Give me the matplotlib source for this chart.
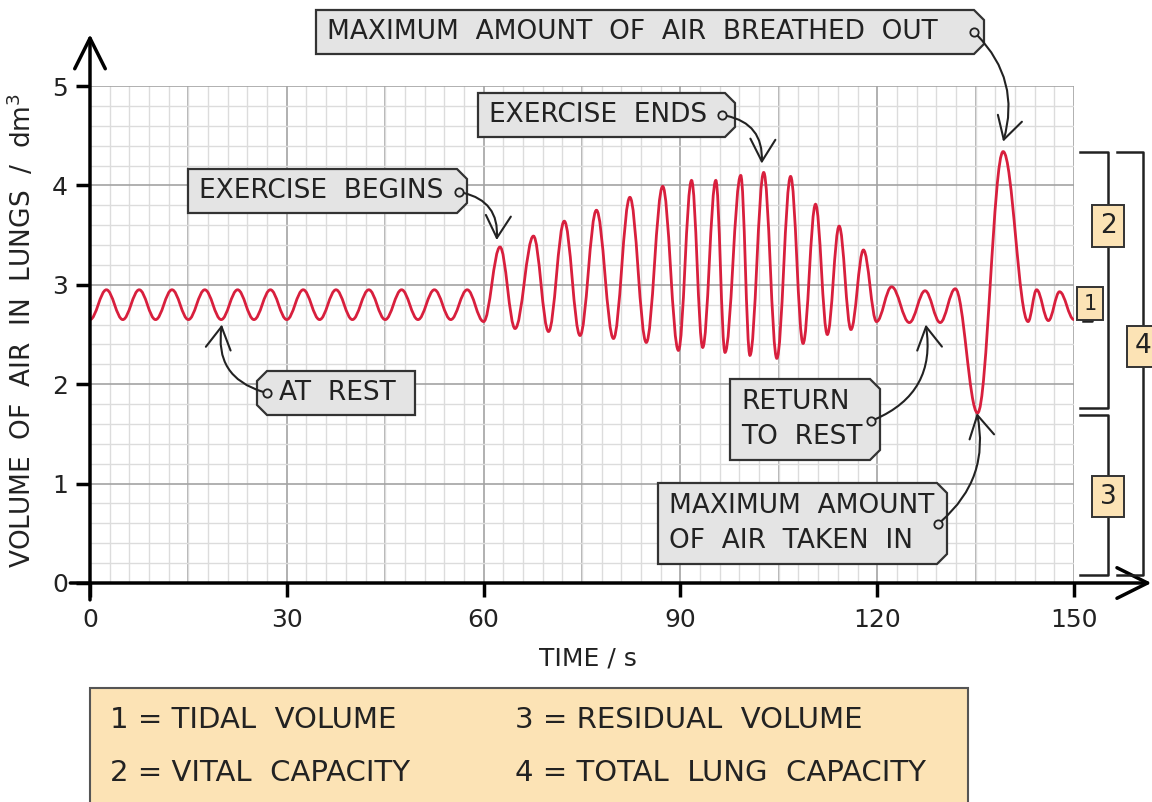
import numpy as np
import matplotlib.pyplot as plt
from matplotlib.path import Path
from matplotlib.patches import PathPatch, Polygon, Rectangle

# turning points of the spirometer trace (time / s, volume / dm3)
times = [0, 2.5, 5, 7.5, 10, 12.5, 15, 17.5, 20, 22.5, 25, 27.5, 30, 32.5, 35,
         37.5, 40, 42.5, 45, 47.5, 50, 52.5, 55, 57.5, 60,
         62.5, 64.8, 67.6, 69.9, 72.3, 74.7, 77.2, 79.8, 82.3, 84.8, 87.3, 89.7,
         91.7, 93.4, 95.4, 96.8, 99.2, 100.6, 102.7, 104.7, 106.8, 108.7,
         110.6, 112.4, 114.2, 116.0, 117.9, 119.9,
         122.2, 124.9, 127.3, 129.6, 131.9, 135.3, 139.2, 143.0, 144.3, 146.1,
         147.8, 150]
volumes = [2.65, 2.95, 2.65, 2.95, 2.65, 2.95, 2.65, 2.95, 2.65, 2.95, 2.65,
           2.95, 2.65, 2.95, 2.65, 2.95, 2.65, 2.95, 2.65, 2.95, 2.65, 2.95,
           2.65, 2.95, 2.63,
           3.38, 2.56, 3.49, 2.53, 3.64, 2.49, 3.75, 2.46, 3.88, 2.42, 3.99, 2.34,
           4.05, 2.37, 4.05, 2.32, 4.10, 2.29, 4.13, 2.26, 4.09, 2.41,
           3.81, 2.50, 3.59, 2.55, 3.35, 2.63,
           2.98, 2.62, 2.94, 2.62, 2.96, 1.71, 4.34, 2.63, 2.95, 2.64,
           2.93, 2.65]

x_labels = [0, 30, 60, 90, 120, 150]
y_labels = [0, 1, 2, 3, 4, 5]

# callouts: text, box (left, top, right, bottom in px), tag side, hole px, target (t, v), curve
callouts = [
    ("MAXIMUM  AMOUNT  OF  AIR  BREATHED  OUT", (316, 10, 984, 54), "right", (974, 32), (139.2, 4.44), -0.3),
    ("EXERCISE  ENDS", (478, 93, 735, 137), "right", (722, 115), (102.4, 4.22), -0.45),
    ("EXERCISE  BEGINS", (188, 169, 467, 213), "right", (459, 192), (62.0, 3.45), -0.45),
    ("AT  REST", (257, 371, 415, 415), "left", (267, 393), (20.1, 2.60), -0.45),
    ("RETURN\nTO  REST", (730, 379, 880, 460), "right", (871, 421), (127.4, 2.60), 0.4),
    ("MAXIMUM  AMOUNT\nOF  AIR  TAKEN  IN", (658, 483, 947, 564), "right", (938, 524), (135.2, 1.71), 0.3),
]

legend_rows = [("1 = TIDAL  VOLUME", "3 = RESIDUAL  VOLUME"),
               ("2 = VITAL  CAPACITY", "4 = TOTAL  LUNG  CAPACITY")]

W, H = 1152, 802
RED = "#d81f3d"
TAN = "#fce3b5"
DARK = "#222222"


def fp(x, y):
    # pixel (from top left) -> figure fraction
    return (x / W, 1 - y / H)


fig = plt.figure(figsize=(W / 100, H / 100), dpi=100)
ax = fig.add_axes([90 / W, 1 - 583 / H, (1074 - 90) / W, (583 - 86) / H])
ax.set_xlim(0, 150)
ax.set_ylim(0, 5)
for s in ax.spines.values():
    s.set_visible(False)

# graph paper
ax.set_xticks(x_labels)
ax.set_xticks(np.arange(0, 151, 3), minor=True)
ax.set_yticks(y_labels)
ax.set_yticks(np.arange(0, 5.01, 0.2), minor=True)
ax.grid(which="minor", color="#dcdcdc", lw=1.0)
ax.grid(which="major", color="#a3a3a3", lw=1.2)
for t in [15, 45, 75, 105, 135]:
    ax.axvline(t, color="#a3a3a3", lw=1.2, zorder=0.5)
ax.set_axisbelow(True)
ax.tick_params(which="minor", length=0)
ax.tick_params(which="major", length=10, width=2.5, color="black",
               labelsize=18, labelcolor=DARK)
ax.tick_params(axis="x", pad=8)
ax.tick_params(axis="y", pad=6)

# trace as smooth curve through the turning points
verts = [(times[0], volumes[0])]
codes = [Path.MOVETO]
for i in range(len(times) - 1):
    t0, v0, t1, v1 = times[i], volumes[i], times[i + 1], volumes[i + 1]
    dt = t1 - t0
    verts += [(t0 + 0.37 * dt, v0), (t1 - 0.37 * dt, v1), (t1, v1)]
    codes += [Path.CURVE4] * 3
ax.add_patch(PathPatch(Path(verts, codes), fc="none", ec=RED, lw=2, zorder=3))

# axis arrows
arrow_kw = dict(arrowstyle="->,head_length=1.1,head_width=0.55", color="black",
                lw=2.5, mutation_scale=20, shrinkA=0, shrinkB=0)
ax.annotate("", xy=(161.8, 0), xytext=(-3, 0), arrowprops=arrow_kw,
            annotation_clip=False, zorder=4)
ax.annotate("", xy=(0, 5.52), xytext=(0, -0.17), arrowprops=arrow_kw,
            annotation_clip=False, zorder=4)

fig.text(22 / W, 1 - 330 / H, "VOLUME  OF  AIR  IN  LUNGS  /  dm$^3$",
         rotation=90, ha="center", va="center", fontsize=19, color=DARK)
fig.text(588 / W, 1 - 658 / H, "TIME / s", ha="center", va="center",
         fontsize=18, color=DARK)

# callout tags with arrows
for text, (l, t, r, b), side, hole, target, rad in callouts:
    c = 10
    if side == "right":
        pts = [(l, t), (r - c, t), (r, t + c), (r, b - c), (r - c, b), (l, b)]
        tx, ha = l + 11, "left"
    else:
        pts = [(l + c, t), (r, t), (r, b), (l + c, b), (l, b - c), (l, t + c)]
        tx, ha = l + 22, "left"
    ax.add_patch(Polygon([fp(x, y) for x, y in pts], closed=True,
                         transform=fig.transFigure, fc="#e4e4e4", ec="#333333",
                         lw=1.6, clip_on=False, zorder=5))
    ax.text(*fp(tx, (t + b) / 2), text, transform=fig.transFigure, ha=ha,
            va="center", fontsize=19, color=DARK, linespacing=1.45,
            zorder=7, clip_on=False)
    ax.annotate("", xy=target, xycoords="data", xytext=fp(*hole),
                textcoords="figure fraction",
                arrowprops=dict(arrowstyle="->,head_length=0.8,head_width=0.45",
                                connectionstyle=f"arc3,rad={rad}", color=DARK,
                                lw=1.5, mutation_scale=20, shrinkA=3, shrinkB=0),
                annotation_clip=False, zorder=6)
    ax.plot(*fp(*hole), transform=fig.transFigure, marker="o", ms=6,
            mfc="#e4e4e4", mec=DARK, mew=1.3, clip_on=False, zorder=7)

# brackets on the right: (x left, x right, v top, v bottom, label, label v)
brackets = [(151.4, 152.7, 2.97, 2.64, "1", 2.81),
            (150.9, 155.2, 4.34, 1.76, "2", 3.59),
            (150.9, 155.2, 1.69, 0.08, "3", 0.87),
            (156.6, 160.5, 4.34, 0.08, "4", 2.38)]
for x0, x1, top, bot, lab, lv in brackets:
    ax.plot([x0, x1, x1, x0], [top, top, bot, bot], color=DARK, lw=1.8,
            clip_on=False, zorder=4)
    fs = 15 if lab == "1" else 19
    ax.text(x1 - (0.25 if lab == "1" else 0), lv, lab, ha="center", va="center",
            fontsize=fs, color=DARK, clip_on=False, zorder=5,
            bbox=dict(boxstyle="square,pad=0.3", fc=TAN, ec="#333333", lw=1.4))

# key box
ax.add_patch(Rectangle(fp(90, 810), (968 - 90) / W, (810 - 688) / H,
                       transform=fig.transFigure, fc=TAN, ec="#555555", lw=1.5,
                       clip_on=False, zorder=5))
for row, y in zip(legend_rows, [720, 773]):
    for txt, x in zip(row, [110, 515]):
        ax.text(*fp(x, y), txt, transform=fig.transFigure, ha="left",
                va="center", fontsize=21, color=DARK, clip_on=False, zorder=6)

fig.savefig("out.png", dpi=100)
